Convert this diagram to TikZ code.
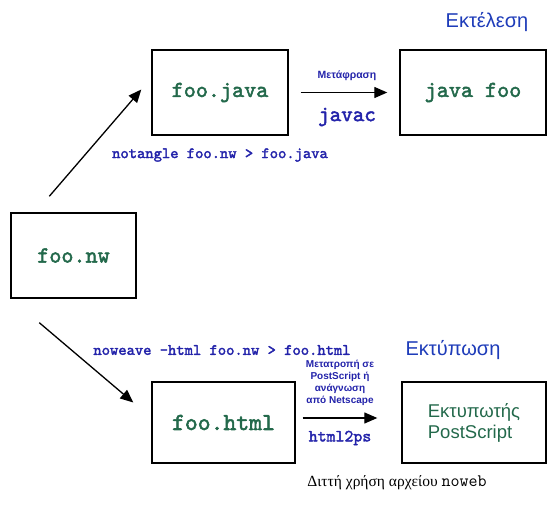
\documentclass[tikz,border=0pt]{standalone}
\usepackage{fontspec}
\setmainfont{Liberation Serif}
\newfontfamily\sansf{Liberation Sans}
\newfontfamily\courb{lmmono10-regular.otf}[FakeBold=2.2]
\usetikzlibrary{calc,arrows.meta}
\definecolor{fgreen}{RGB}{35,105,75}
\definecolor{lblue}{RGB}{35,35,170}
\definecolor{tblue}{RGB}{30,60,185}
\tikzset{
  box/.style={draw=black,line width=1.4pt,minimum width=#1,inner sep=0pt},
  fname/.style={text=fgreen,font=\courb\fontsize{23}{26}\selectfont},
  cmd/.style={text=lblue,font=\courb\fontsize{15.8}{18}\selectfont},
  tool/.style={text=lblue,font=\courb\fontsize{22}{24}\selectfont},
  small/.style={text=lblue,font=\sansf\bfseries\fontsize{10}{12}\selectfont,align=center},
  title/.style={text=tblue,font=\sansf\fontsize{20}{24}\selectfont},
  arr/.style={line width=1.3pt,-{Triangle[length=13pt,width=11pt]}},
}
\begin{document}
\begin{tikzpicture}[x=1pt,y=-1pt]
\useasboundingbox (0,0) rectangle (549,510);
% boxes
\node[box=136pt,minimum height=85pt,fname] (java) at (220,92.5) {foo.java};
\node[box=146pt,minimum height=85pt,fname] (run) at (473,92.5) {java foo};
\node[box=125pt,minimum height=85pt,fname] (nw) at (73.5,255.5) {foo.nw};
\node[box=143pt,minimum height=81pt,fname,font=\courb\fontsize{24.5}{26}\selectfont] (html) at (223.5,422.5) {foo.html};
\node[box=144pt,minimum height=81pt,text=fgreen,font=\sansf\fontsize{18.5}{21}\selectfont,align=left] (ps) at (474,422.5) {Εκτυπωτής\\PostScript};
% titles
\node[title] (exec) at (487,22) {Εκτέλεση};
\node[title] (print) at (453,350) {Εκτύπωση};
% top arrow
\draw[arr,shorten <=12pt,shorten >=12pt] (java.east) -- (run.west);
\node[small,font=\sansf\bfseries\fontsize{10.5}{12}\selectfont] (transl) at (347,76) {Μετάφραση};
\node[tool] (javac) at (347,117) {javac};
% bottom arrow
\draw[arr,shorten <=7pt,shorten >=24pt] (html.east |- 0,418) coordinate (he) -- (ps.west |- 0,418) coordinate (pw);
\node[small] (conv) at (340,383) {Μετατροπή σε\\PostScript ή\\ανάγνωση\\από Netscape};
\node[tool,font=\courb\fontsize{17}{18}\selectfont] (h2ps) at (340,438) {html2ps};
% diagonal arrows
\coordinate (t1) at ($(nw.north west)+(39,-16)$);
\coordinate (h1) at ($(java.west)+(-10,-3)$);
\draw[arr] (t1) -- (h1);
\coordinate (t2) at ($(nw.south west)+(29,24)$);
\coordinate (h2) at ($(html.west)+(-18,-20)$);
\draw[arr] (t2) -- (h2);
% commands
\node[cmd] (tangle) at (220,155) {notangle foo.nw > foo.java};
\node[cmd] (weave) at (222,350) {noweave -html foo.nw > foo.html};
% caption
\node[font=\fontsize{15.5}{18}\selectfont] (cap) at (397,483) {Διττή χρήση αρχείου {\ttfamily\fontsize{17.5}{18}\selectfont noweb}};
\end{tikzpicture}
\end{document}
